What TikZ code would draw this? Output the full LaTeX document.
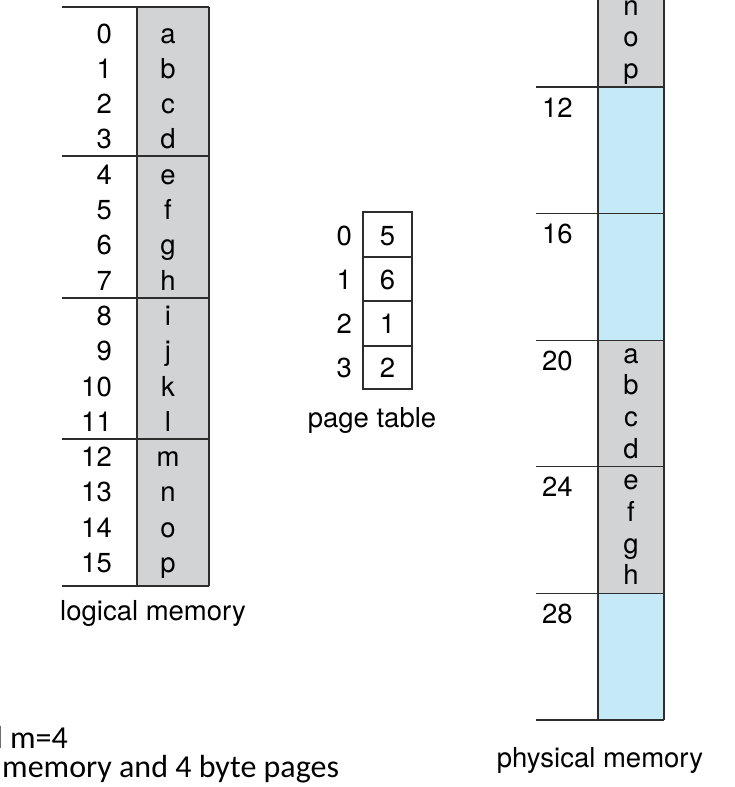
\documentclass[tikz,border=0pt]{standalone}
\usepackage{fontspec}
\setmainfont{TeX Gyre Heros}
\newfontfamily\notefont{Carlito}
\usetikzlibrary{positioning}

\definecolor{pagegray}{RGB}{209,211,212}
\definecolor{freeblue}{RGB}{198,233,248}
\definecolor{rulegray}{RGB}{45,45,45}

\begin{document}
\begin{tikzpicture}[x=1pt,y=-1pt,
    every node/.style={font=\fontsize{27.5}{33}\selectfont,inner sep=0pt},
    rule/.style={draw=rulegray,line width=1.3pt}]
    \clip (0,0) rectangle (734,787);

    % Logical memory: 16 bytes, 4 per page
    \fill[pagegray] (137,7) rectangle (209,586);
    \foreach \y in {7,156,298,439,586}
      \draw[rule] (62,\y) -- (209,\y);
    \draw[rule] (137,7) -- (137,586) (209,7) -- (209,586);
    \foreach \c [count=\i from 0] in {a,...,p} {
      \node[anchor=base east] (addr\i) at (112,{43+35.3*\i}) {\i};
      \node[anchor=base] (byte\i) at (168,{43+35.3*\i}) {\c};
    }
    \node[anchor=base] (logical) at (153,620) {logical memory};

    % Page table
    \draw[rule] (363,212) rectangle (412,389);
    \foreach \y in {257,301,346}
      \draw[rule] (363,\y) -- (412,\y);
    \foreach \f [count=\i from 0] in {5,6,1,2} {
      \node[anchor=base east] (pidx\i) at (352,{245+44.25*\i}) {\i};
      \node[anchor=base] (pte\i) at (387.5,{245+44.25*\i}) {\f};
    }
    \node[anchor=base] (ptable) at (372,427) {page table};

    % Physical memory: frames 2..7, frame k starts at 87+126.6*(k-3)
    \foreach \k/\col in {2/pagegray,3/freeblue,4/freeblue,5/pagegray,6/pagegray,7/freeblue}
      \fill[\col] (598,{87+126.6*(\k-3)}) rectangle (664,{87+126.6*(\k-2)});
    \foreach \k in {3,...,8}
      \draw[rule] (536,{87+126.6*(\k-3)}) -- (664,{87+126.6*(\k-3)});
    \draw[rule] (598,0) -- (598,720) (664,0) -- (664,720);
    \foreach \k in {3,...,7}
      \node[anchor=base west] (frame\k) at (542,{87+126.6*(\k-3)+30}) {\the\numexpr4*\k\relax};
    \foreach \k/\letters in {2/{m,n,o,p},5/{a,b,c,d},6/{e,f,g,h}}
      \foreach \c [count=\j from 0] in \letters
        \node[anchor=base] (phys\k\c) at (631,{87+126.6*(\k-3)+23+31.6*\j}) {\c};
    \node[anchor=base] (physical) at (600,767) {physical memory};

    % Notes
    \node[anchor=base west,font=\notefont\fontsize{32}{36}\selectfont] (sizes) at (10,748) {\llap{and }m=4};
    \node[anchor=base west,font=\notefont\fontsize{32}{36}\selectfont] (pages) at (2,777) {memory and 4 byte pages};
\end{tikzpicture}
\end{document}
